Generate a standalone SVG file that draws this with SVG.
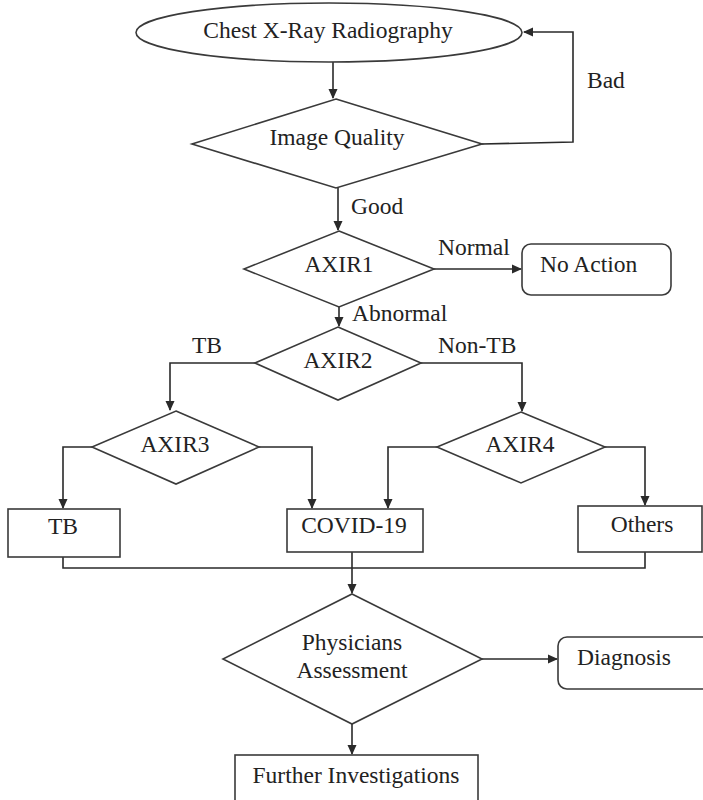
<svg xmlns="http://www.w3.org/2000/svg" width="703" height="800" viewBox="0 0 703 800">
<defs>
<marker id="arr" markerWidth="10" markerHeight="10" refX="9" refY="5" orient="auto" markerUnits="userSpaceOnUse">
<path d="M0,0.5 L10,5 L0,9.5 Z" fill="#2a2a2a"/>
</marker>
</defs>
<style>
.s{fill:#fff;stroke:#3a3a3a;stroke-width:1.6}
.c{fill:none;stroke:#2a2a2a;stroke-width:1.6}
.t{font-family:"Liberation Serif","Times New Roman",serif;font-size:23.5px;fill:#222}
.m{text-anchor:middle}
</style>
<rect width="703" height="800" fill="#fff"/>
<g id="connectors">
<path class="c" d="M333,62 V98" marker-end="url(#arr)"/>
<path class="c" d="M482,144 L573,142 V32 H524" marker-end="url(#arr)"/>
<path class="c" d="M338,188 V230" marker-end="url(#arr)"/>
<path class="c" d="M434,269 H521" marker-end="url(#arr)"/>
<path class="c" d="M339,307 V326" marker-end="url(#arr)"/>
<path class="c" d="M255,363 H170 V410" marker-end="url(#arr)"/>
<path class="c" d="M421,363 H522 V411" marker-end="url(#arr)"/>
<path class="c" d="M92,447 H63 V508" marker-end="url(#arr)"/>
<path class="c" d="M259,447 H312 V508" marker-end="url(#arr)"/>
<path class="c" d="M437,447 H388 V508" marker-end="url(#arr)"/>
<path class="c" d="M605,447 H645 V505" marker-end="url(#arr)"/>
<path class="c" d="M63,557 V568 H645 V552"/>
<path class="c" d="M352,552 V593" marker-end="url(#arr)"/>
<path class="c" d="M482,659 H557" marker-end="url(#arr)"/>
<path class="c" d="M352,724 V754" marker-end="url(#arr)"/>
<text class="t" x="587" y="88">Bad</text>
<text class="t" x="351" y="214">Good</text>
<text class="t" x="438" y="255">Normal</text>
<text class="t" x="352" y="321">Abnormal</text>
<text class="t" x="192" y="353">TB</text>
<text class="t" x="438" y="353">Non-TB</text>
</g>
<g id="start">
<ellipse class="s" cx="329" cy="32.5" rx="193" ry="29.5"/>
<text class="t m" x="328" y="38">Chest X-Ray Radiography</text>
</g>
<g id="quality">
<polygon class="s" points="336,99 482,144 336,188 192,144"/>
<text class="t m" x="337" y="145">Image Quality</text>
</g>
<g id="axir1">
<polygon class="s" points="339,231 434,269 339,307 244,269"/>
<text class="t m" x="339" y="272">AXIR1</text>
</g>
<g id="noaction">
<rect class="s" x="522" y="244" width="149" height="51" rx="9"/>
<text class="t" x="540" y="272">No Action</text>
</g>
<g id="axir2">
<polygon class="s" points="338,327 421,363 338,400 255,363"/>
<text class="t m" x="338" y="368">AXIR2</text>
</g>
<g id="axir3">
<polygon class="s" points="176,411 259,447 176,484 92,447"/>
<text class="t m" x="175" y="452">AXIR3</text>
</g>
<g id="axir4">
<polygon class="s" points="521,412 605,447 521,483 437,447"/>
<text class="t m" x="520" y="452">AXIR4</text>
</g>
<g id="tb">
<rect class="s" x="8" y="509" width="112" height="48"/>
<text class="t m" x="63" y="534">TB</text>
</g>
<g id="covid">
<rect class="s" x="287" y="509" width="136" height="43"/>
<text class="t m" x="354" y="533">COVID-19</text>
</g>
<g id="others">
<rect class="s" x="578" y="506" width="124" height="46"/>
<text class="t m" x="642" y="532">Others</text>
</g>
<g id="physicians">
<polygon class="s" points="352,594 482,659 352,724 223,659"/>
<text class="t m" x="352" y="650">Physicians</text>
<text class="t m" x="352" y="678">Assessment</text>
</g>
<g id="diagnosis">
<rect class="s" x="558" y="637" width="160" height="52" rx="9"/>
<text class="t" x="577" y="665">Diagnosis</text>
</g>
<g id="further">
<rect class="s" x="235" y="755" width="243" height="50"/>
<text class="t m" x="356" y="783">Further Investigations</text>
</g>
</svg>
